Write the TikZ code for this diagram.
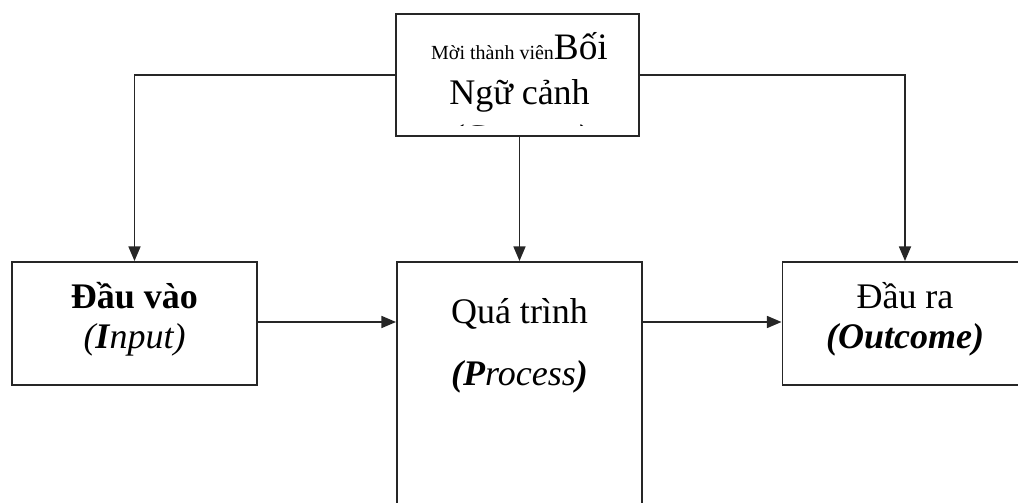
\documentclass[tikz,border=0pt]{standalone}
\usepackage{fontspec}
\setmainfont{Liberation Serif}
\usetikzlibrary{arrows.meta}

\begin{document}
\begin{tikzpicture}[x=0.75pt, y=-0.75pt,
    box/.style={draw=black!85, line width=1.4pt, inner sep=0pt,
                minimum width=183.75pt, minimum height=92.25pt},
    lbl/.style={align=center, inner sep=0pt, font=\fontsize{27}{30}\selectfont},
    link/.style={draw=black!85, line width=1.3pt,
                 -{Triangle[length=11pt, width=9pt]}}]
  \path[use as bounding box] (0,0) rectangle (1018,503);
  \clip (0,0) rectangle (1018,503);

  % context on top, the three stages below it
  \node[box, minimum width=182.25pt, minimum height=91.5pt] (ctx) at (517.5,75) {};
  \node[box] (inp) at (134.5,323.5) {};
  \node[box, minimum height=210pt] (proc) at (519.5,402) {};
  \node[box] (out) at (905,323.5) {};

  \node[lbl] (inptxt) at (134.5,319) {\textbf{Đầu vào}\\\textit{(\textbf{I}nput)}};
  \node[lbl] (outtxt) at (905,319) {Đầu ra\\\textbf{\textit{(Outcome)}}};
  \node[lbl, anchor=north] (proctxt) at (519.5,298)
    {Quá trình\\[16.5pt]\textit{\textbf{(P}rocess\textbf{)}}};

  % the last line runs out of the box and gets cut
  \begin{scope}
    \clip ([yshift=8.25pt]ctx.south west) rectangle (ctx.north east);
    \node[lbl, anchor=north, font=\fontsize{27}{33.75}\selectfont] (ctxtxt) at (519.5,32)
      {{\fontsize{15}{17}\selectfont Mời thành viên}{\fontsize{28}{30}\selectfont Bối}\\
       Ngữ cảnh\\\textbf{\textit{(Context)}}};
  \end{scope}

  \draw[link] (ctx.west) -| (inp.north);
  \draw[link] (ctx.east) -| (out.north);
  \draw[link] (ctx.south -| proc.north) -- (proc.north);
  \draw[link] (inp.east |- 0,322) -- (proc.west |- 0,322);
  \draw[link] (proc.east |- 0,322) -- (out.west |- 0,322);
\end{tikzpicture}
\end{document}
